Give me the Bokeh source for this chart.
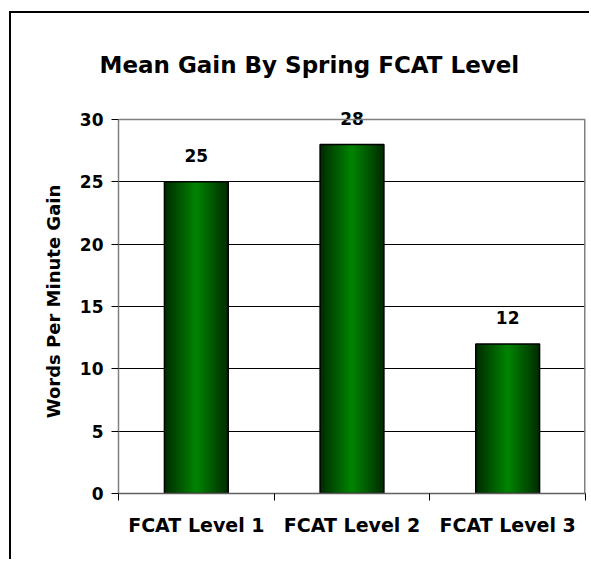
from bokeh.plotting import figure
from bokeh.models import Range1d, FixedTicker, ColumnDataSource, Span
from bokeh.core.properties import value
from bokeh.embed import file_html
from bokeh.resources import INLINE

# ---- data ----
categories = ["FCAT Level 1", "FCAT Level 2", "FCAT Level 3"]
values = [25, 28, 12]
value_labels = ["25", "28", "12"]
y_ticks = [0, 5, 10, 15, 20, 25, 30]
title_text = "Mean Gain By Spring FCAT Level"
y_label = "Words Per Minute Gain"

FONT = value("DejaVu Sans")

n = len(categories)
centres = [i + 0.5 for i in range(n)]          # category slot centres
bounds = list(range(n + 1))                    # category slot boundaries
y_top = y_ticks[-1]

p = figure(width=580, height=548, output_backend="svg", toolbar_location=None,
           x_range=Range1d(0, n), y_range=Range1d(0, y_top + 0.8),
           min_border_left=107, min_border_right=6, min_border_top=96,
           min_border_bottom=68,
           styles={"margin-left": "9px", "margin-top": "11px",
                   "border-left": "2px solid black", "border-top": "2px solid black"})

xax = p.below[0]
yax = p.left[0]

p.title.text = title_text
p.title.align = "left"
p.title.offset = -19
p.title.vertical_align = "top"
p.title.standoff = 60
p.title.text_font = "DejaVu Sans"
p.title.text_font_style = "bold"
p.title.text_font_size = "23px"
p.title.text_color = "black"

p.background_fill_color = "white"
p.border_fill_color = "white"
p.outline_line_color = None

# gridlines (inner) + grey plot-area border at the top value
p.xgrid.visible = False
p.ygrid.ticker = FixedTicker(ticks=y_ticks[1:-1])
p.ygrid.grid_line_color = "black"
p.ygrid.grid_line_width = 1
p.add_layout(Span(location=y_top, dimension="width", line_color="#808080",
                  line_width=1.5))
p.segment(x0=[n], y0=[0], x1=[n], y1=[y_top], line_color="#808080", line_width=3)

# y axis
yax.ticker = FixedTicker(ticks=y_ticks)
yax.bounds = (0, y_top)
yax.minor_tick_line_color = None
yax.major_tick_in = 0
yax.major_tick_out = 7
yax.major_tick_line_color = "black"
yax.axis_line_color = "#808080"
yax.axis_line_width = 1.5
yax.major_label_text_font = "DejaVu Sans"
yax.major_label_text_font_style = "bold"
yax.major_label_text_font_size = "17px"
yax.major_label_text_color = "black"
yax.major_label_standoff = 8
yax.axis_label = y_label
yax.axis_label_text_font = "DejaVu Sans"
yax.axis_label_text_font_style = "bold"
yax.axis_label_text_font_size = "18px"
yax.axis_label_text_color = "black"
yax.axis_label_standoff = 13

# x axis: labels at slot centres, tick marks (minor) at slot boundaries
xax.ticker = FixedTicker(ticks=centres, minor_ticks=bounds)
xax.major_label_overrides = {c: lab for c, lab in zip(centres, categories)}
xax.major_tick_line_color = None
xax.major_tick_in = 0
xax.major_tick_out = 7
xax.minor_tick_in = 0
xax.minor_tick_out = 7
xax.minor_tick_line_color = "black"
xax.axis_line_color = "#606060"
xax.axis_line_width = 1.5
xax.major_label_text_font = "DejaVu Sans"
xax.major_label_text_font_style = "bold"
xax.major_label_text_font_size = "19px"
xax.major_label_text_color = "black"
xax.major_label_standoff = 13

src = ColumnDataSource(dict(x=centres, val=values, lab=value_labels))

# bars with horizontal gradient (dark edges -> bright centre)
BAR_W = 0.41
N = 16
edge = (0, 45, 0)
centre = (0, 130, 0)
for k in range(N):
    t = k / (N - 1)
    c = tuple(int(round(edge[i] + (centre[i] - edge[i]) * t)) for i in range(3))
    col = "#%02x%02x%02x" % c
    p.vbar(x="x", top="val", width=BAR_W * (1 - k / N), bottom=0, source=src,
           fill_color=col, line_color=None)
p.vbar(x="x", top="val", width=BAR_W, bottom=0, source=src,
       fill_color=None, line_color="black", line_width=1.5)

# value labels
p.text(x="x", y="val", text="lab", source=src,
       y_offset=-26, text_align="center", text_baseline="alphabetic",
       text_font=FONT, text_font_style="bold", text_font_size="17px",
       text_color="black")

open("out.html", "w").write(file_html(p, INLINE))
